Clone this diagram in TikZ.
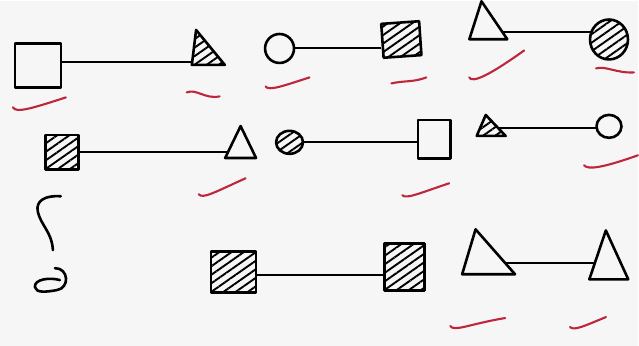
\documentclass[tikz,border=0pt]{standalone}
\usetikzlibrary{shapes.geometric,patterns.meta,backgrounds}
\definecolor{paper}{RGB}{246,246,246}
\definecolor{pen}{RGB}{190,38,60}

\begin{document}
\begin{tikzpicture}[x=1pt,y=-1pt,line join=round,
  shp/.style={draw,line width=2.6pt,inner sep=0pt,preaction={fill=paper}},
  sq/.style={shp,rectangle},
  dot/.style={shp,ellipse},
  tri/.style={shp,isosceles triangle,isosceles triangle stretches,shape border rotate=90,transform shape},
  hatch/.style={postaction={pattern={Lines[angle=35,distance=7pt,line width=1.9pt]}}},
  link/.style={draw,line width=2pt},
  scribble/.style={draw,line width=2.6pt,line cap=round},
  tick/.style={draw=pen,line width=2.1pt,line cap=round}]
  % top row
  \node[sq,minimum width=46pt,minimum height=44pt] (s1) at (38,65) {};
  \node[tri,hatch,minimum width=33pt,minimum height=35pt,xslant=-0.35] (t1) at (205,54) {};
  \node[dot,minimum width=29pt,minimum height=29pt] (c1) at (280,48) {};
  \node[sq,hatch,minimum width=38pt,minimum height=34pt,rotate=4] (s2) at (402,39) {};
  \node[tri,minimum width=38pt,minimum height=38pt,xslant=-0.18] (t2) at (487,27) {};
  \node[dot,hatch,minimum width=38pt,minimum height=40pt] (c2) at (610,39) {};
  % middle row
  \node[sq,hatch,minimum width=33pt,minimum height=35pt] (s3) at (62,152) {};
  \node[tri,minimum width=31pt,minimum height=32pt] (t3) at (241,148) {};
  \node[dot,hatch,minimum width=27pt,minimum height=23pt] (c3) at (290,142) {};
  \node[sq,minimum width=33pt,minimum height=39pt] (s4) at (435,139) {};
  \node[tri,hatch,minimum width=29pt,minimum height=21pt,xslant=-0.26] (t4) at (490,128) {};
  \node[dot,minimum width=25pt,minimum height=23pt] (c4) at (610,126) {};
  % bottom row
  \node[sq,hatch,minimum width=45pt,minimum height=41pt] (s5) at (234,272) {};
  \node[sq,hatch,minimum width=40pt,minimum height=47pt] (s6) at (405,267) {};
  \node[tri,minimum width=53pt,minimum height=45pt,xslant=-0.29] (t5) at (485,259) {};
  \node[tri,minimum width=39pt,minimum height=49pt,xslant=-0.06] (t6) at (609,266) {};

  \begin{scope}[on background layer]
    \fill[paper] (0,0) rectangle (639,346);
    \draw[link] ([yshift=3pt]s1.center) -- ([yshift=3pt]s1.center -| t1.center);
    \draw[link] (c1.east) -- (c1.east -| s2.west);
    \draw[link] ([yshift=-4pt]t2.center) -- ([yshift=-4pt]t2.center -| c2.center);
    \draw[link] (s3.center) -- (s3.center -| t3.center);
    \draw[link] (c3.east) -- (c3.east -| s4.west);
    \draw[link] (t4.center) -- (t4.center -| c4.center);
    \draw[link] ([yshift=-3pt]s5.east) -- ([yshift=-3pt]s5.east -| s6.west);
    \draw[link] ([yshift=-4pt]t5.center) -- ([yshift=-4pt]t5.center -| t6.center);
  \end{scope}

  % the mark on the left
  \draw[scribble] (61,196) .. controls (46,195) and (35,200) .. (38,212)
    .. controls (41,225) and (52,232) .. (53,250);
  \draw[scribble] (55,268) .. controls (69,268) and (70,288) .. (57,290)
    .. controls (46,292) and (36,293) .. (35,287) .. controls (34,279) and (50,277) .. (60,280);

  % red ticks
  \draw[tick] (13,107) .. controls (16,113) and (32,108) .. (66,97);
  \draw[tick] (187,92) .. controls (197,88) and (205,99) .. (220,96);
  \draw[tick] (266,86) .. controls (269,91) and (285,85) .. (310,77);
  \draw[tick] (392,83) .. controls (405,80) and (414,82) .. (427,77);
  \draw[tick] (470,77) .. controls (473,83) and (490,75) .. (525,50);
  \draw[tick] (597,68) .. controls (606,65) and (618,73) .. (635,72);
  \draw[tick] (199,194) .. controls (203,199) and (215,192) .. (246,178);
  \draw[tick] (403,195) .. controls (407,199) and (420,193) .. (450,183);
  \draw[tick] (585,165) .. controls (589,170) and (605,167) .. (639,155);
  \draw[tick] (451,326) .. controls (455,332) and (470,324) .. (506,318);
  \draw[tick] (571,327) .. controls (575,331) and (585,326) .. (607,317);
\end{tikzpicture}
\end{document}
